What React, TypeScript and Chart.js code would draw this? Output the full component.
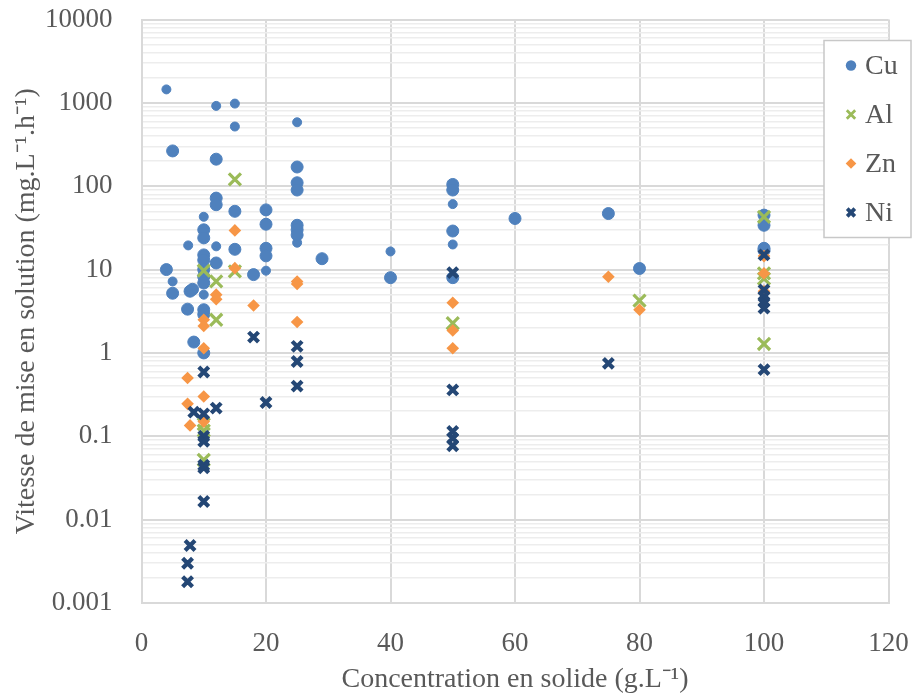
import React, { useEffect, useRef } from 'react';
import { Chart, registerables } from 'chart.js';

Chart.register(...registerables);

const FONT = '"Liberation Serif", "Times New Roman", serif';
const TEXT = '#595959';

const xTicks = [0, 20, 40, 60, 80, 100, 120];
const yDecades = [0.001, 0.01, 0.1, 1, 10, 100, 1000, 10000];
const yDecadeLabels = ['0.001', '0.01', '0.1', '1', '10', '100', '1000', '10000'];
const yMinorSteps = [2, 3, 4, 5, 6, 7, 8, 9];
const seriesNames = ['Cu', 'Al', 'Zn', 'Ni'];

const cuLarge: [number, number][] = [
  [5, 265], [12, 211], [25, 170], [25, 110], [25, 90], [12, 72], [12, 60],
  [15, 50], [20, 52], [20, 35], [10, 30], [10, 24], [15, 17.5], [20, 18], [20, 14.6],
  [25, 34], [25, 30], [25, 26], [29, 13.5], [10, 15], [10, 13], [12, 12], [4, 10],
  [10, 10], [10, 8.2], [10, 6.9], [18, 8.7], [5, 5.2], [7.8, 5.5], [8.2, 5.8],
  [7.4, 3.35], [10, 3.3], [10, 2.9], [8.4, 1.35], [10, 1.0],
  [40, 8], [50, 105], [50, 90], [50, 29], [50, 8], [60, 41], [75, 47], [80, 10.3],
  [100, 45], [100, 34], [100, 18], [100, 17],
];

const cuSmall: [number, number][] = [
  [4, 1450], [12, 920], [15, 980], [15, 520], [25, 585], [10, 43], [12, 19],
  [7.5, 19.5], [25, 21], [20, 9.7], [5, 7.2], [10, 5.0], [40, 16.5], [50, 61], [50, 20],
];

const al: [number, number][] = [
  [15, 121], [10, 9.7], [15, 9.5], [12, 7.2], [12, 2.5], [10, 0.14], [10, 0.117],
  [10, 0.052], [50, 2.27], [80, 4.25], [100, 43], [100, 9], [100, 7.8], [100, 1.28],
];

const zn: [number, number][] = [
  [15, 29.5], [15, 10.4], [25, 6.7], [25, 7.2], [12, 5.0], [12, 4.4], [18, 3.7],
  [10, 2.5], [10, 2.1], [25, 2.35], [10, 1.14], [7.4, 0.5], [10, 0.3], [7.4, 0.245],
  [7.8, 0.135], [10, 0.15], [50, 4.0], [50, 1.86], [50, 1.14], [75, 8.2], [80, 3.3],
  [100, 14.5], [100, 9.0], [100, 5.5],
];

const ni: [number, number][] = [
  [18, 1.55], [25, 1.2], [25, 0.79], [25, 0.4], [10, 0.59], [20, 0.254], [8.4, 0.195],
  [10, 0.186], [12, 0.218], [10, 0.1], [10, 0.087], [10, 0.045], [10, 0.042],
  [10, 0.0165], [7.8, 0.0049], [7.4, 0.003], [7.4, 0.0018], [50, 9.2], [50, 0.36],
  [50, 0.114], [50, 0.095], [50, 0.077], [75, 0.75], [100, 15], [100, 5.7],
  [100, 4.75], [100, 4.1], [100, 3.45], [100, 0.63],
];

const CU = '#4F81BD';
const AL = '#9BBB59';
const ZN = '#F79646';
const NI = '#244775';

const toPts = (arr: [number, number][]) => arr.map(([x, y]) => ({ x, y }));

const legendPlugin = {
  id: 'boxLegend',
  afterDraw(chart: any) {
    const ctx = chart.ctx as CanvasRenderingContext2D;
    ctx.save();
    const bx = 824, by = 40.5, bw = 87, bh = 197;
    ctx.fillStyle = '#FFFFFF';
    ctx.fillRect(bx, by, bw, bh);
    ctx.strokeStyle = '#C8C8C8';
    ctx.lineWidth = 1.5;
    ctx.strokeRect(bx, by, bw, bh);
    const colors = [CU, AL, ZN, NI];
    seriesNames.forEach((name, i) => {
      const cy = by + 25 + i * 49;
      const cx = bx + 27;
      ctx.fillStyle = colors[i];
      ctx.strokeStyle = colors[i];
      if (i === 0) {
        ctx.beginPath();
        ctx.arc(cx, cy, 5.2, 0, Math.PI * 2);
        ctx.fill();
      } else if (i === 1 || i === 3) {
        const r = i === 1 ? 4.2 : 3.8;
        ctx.lineWidth = i === 1 ? 2.8 : 3.8;
        ctx.beginPath();
        ctx.moveTo(cx - r, cy - r); ctx.lineTo(cx + r, cy + r);
        ctx.moveTo(cx + r, cy - r); ctx.lineTo(cx - r, cy + r);
        ctx.stroke();
      } else {
        const r = 5.3;
        ctx.beginPath();
        ctx.moveTo(cx - r, cy); ctx.lineTo(cx, cy - r); ctx.lineTo(cx + r, cy); ctx.lineTo(cx, cy + r);
        ctx.closePath();
        ctx.fill();
      }
      ctx.fillStyle = TEXT;
      ctx.font = `28px ${FONT}`;
      ctx.textAlign = 'left';
      ctx.textBaseline = 'middle';
      ctx.fillText(name, bx + 41, cy + 1);
    });
    ctx.restore();
  },
};

export default function App() {
  const ref = useRef<HTMLCanvasElement | null>(null);

  useEffect(() => {
    if (!ref.current) return;
    const chart = new Chart(ref.current, {
      type: 'scatter',
      data: {
        datasets: [
          {
            label: 'Ni', data: toPts(ni), order: 0, pointStyle: 'crossRot',
            pointRadius: 7, borderColor: NI, backgroundColor: NI, borderWidth: 4.2,
          },
          {
            label: 'Zn', data: toPts(zn), order: 1, pointStyle: 'rectRot',
            pointRadius: 6.3, borderColor: ZN, backgroundColor: ZN, borderWidth: 0,
          },
          {
            label: 'Al', data: toPts(al), order: 2, pointStyle: 'crossRot',
            pointRadius: 8.5, borderColor: AL, backgroundColor: AL, borderWidth: 3.2,
          },
          {
            label: 'Cu', data: toPts(cuLarge), order: 3, pointStyle: 'circle',
            pointRadius: 6, borderColor: CU, backgroundColor: CU, borderWidth: 1,
          },
          {
            label: 'Cu', data: toPts(cuSmall), order: 4, pointStyle: 'circle',
            pointRadius: 4.5, borderColor: CU, backgroundColor: CU, borderWidth: 1,
          },
        ],
      },
      options: {
        animation: false,
        responsive: true,
        maintainAspectRatio: false,
        layout: { padding: { top: 19.5, right: 24.5, bottom: 0, left: 0 } },
        plugins: { legend: { display: false }, tooltip: { enabled: false } },
        scales: {
          x: {
            type: 'linear', min: 0, max: 120,
            afterBuildTicks: (s: any) => { s.ticks = xTicks.map((v) => ({ value: v })); },
            afterFit: (s: any) => {
              s.height = 95;
              s.paddingLeft = 0; s.paddingRight = 0; s.paddingTop = 0; s.paddingBottom = 0;
            },
            grid: { color: '#D9D9D9', lineWidth: 2, drawTicks: false },
            border: { color: '#D9D9D9', width: 2 },
            ticks: { color: TEXT, font: { family: FONT, size: 27 }, padding: 25, maxRotation: 0, autoSkip: false },
            title: {
              display: true, text: 'Concentration en solide (g.L⁻¹)', color: TEXT,
              font: { family: FONT, size: 28 }, padding: { top: 0, bottom: 2 },
            },
          },
          y: {
            type: 'logarithmic', min: 0.001, max: 10000,
            afterBuildTicks: (s: any) => {
              const t: any[] = [];
              yDecades.forEach((d, i) => {
                t.push({ value: d, major: true, label: yDecadeLabels[i] });
                if (i < yDecades.length - 1) yMinorSteps.forEach((m) => t.push({ value: m * d, major: false }));
              });
              s.ticks = t;
            },
            afterFit: (s: any) => {
              s.width = 141.5;
              s.paddingLeft = 0; s.paddingRight = 0; s.paddingTop = 0; s.paddingBottom = 0;
            },
            grid: {
              drawTicks: false,
              color: (c: any) => (c.tick && c.tick.major ? '#D9D9D9' : '#EDEDED'),
              lineWidth: (c: any) => (c.tick && c.tick.major ? 2 : 1.5),
            },
            border: { color: '#D9D9D9', width: 2 },
            ticks: {
              color: TEXT, font: { family: FONT, size: 27 }, padding: 29, autoSkip: false,
              callback: (v: any, i: number, ticks: any[]) => (ticks[i] && ticks[i].major ? ticks[i].label : ''),
            },
            title: {
              display: true, text: 'Vitesse de mise en solution (mg.L⁻¹.h⁻¹)', color: TEXT,
              font: { family: FONT, size: 28 }, padding: { top: 10, bottom: 0 },
            },
          },
        },
      },
      plugins: [legendPlugin],
    });
    return () => chart.destroy();
  }, []);

  return (
    <div style={{ position: 'fixed', left: 0, top: 0, width: 913, height: 698, background: '#fff' }}>
      <canvas ref={ref} />
    </div>
  );
}
